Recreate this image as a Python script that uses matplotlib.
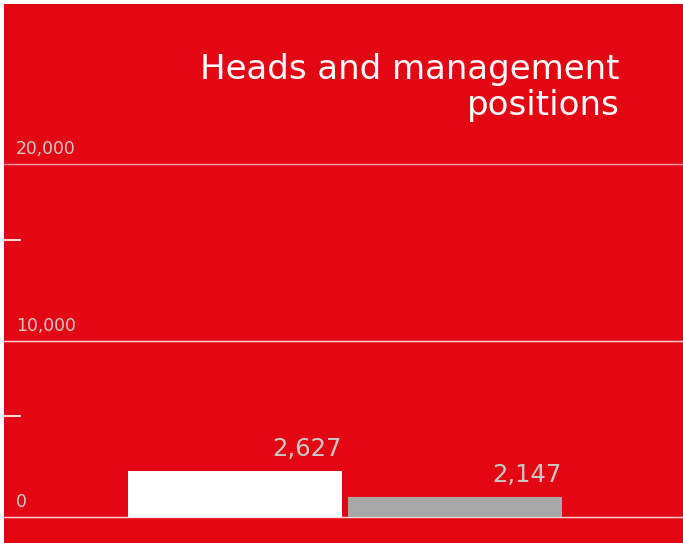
import matplotlib.pyplot as plt
import matplotlib.transforms as mtransforms

# data
categories = ['Group A', 'Group B']
values = [2627, 2147]
value_labels = ['2,627', '2,147']
y_ticks = [0, 10000, 20000]
y_tick_labels = ['0', '10,000', '20,000']

red = '#e30613'
label_grey = '#c9c9c9'

fig = plt.figure(figsize=(6.83, 5.43), dpi=100, facecolor=red)
# thin white margin on top/left like the reference
fig.patches.append(plt.Rectangle((0, 0), 4 / 683, 1, transform=fig.transFigure,
                                 facecolor='white', edgecolor='none', zorder=10))
fig.patches.append(plt.Rectangle((0, 1 - 4 / 543), 1, 4 / 543, transform=fig.transFigure,
                                 facecolor='white', edgecolor='none', zorder=10))

ax = fig.add_axes([4 / 683, 26 / 543, 679 / 683, 353 / 543])
ax.set_facecolor('none')
ax2 = ax.twinx()
ax2.set_facecolor('none')

# white bar on main axis, grey bar on secondary axis
ax.bar([0], [values[0]], width=0.973, color='white', zorder=3)
ax2.bar([1], [values[1]], width=0.973, color='#a8a8a8', zorder=3)

ax.set_ylim(0, 20000)
ax2.set_ylim(0, 37900)
for a in (ax, ax2):
    a.set_xlim(-1.05, 2.036)
    for s in a.spines.values():
        s.set_visible(False)
    a.set_xticks([])
ax2.set_yticks([])

# grid lines
trans = mtransforms.blended_transform_factory(ax.transAxes, ax.transData)
for t, lab in zip(y_ticks, y_tick_labels):
    alpha = 0.6 if t == 20000 else 0.85
    ax.axhline(t, color='white', lw=1, alpha=alpha, zorder=2, clip_on=False)
    ax.annotate(lab, xy=(0.018, t), xycoords=trans, xytext=(0, 4), textcoords='offset points',
                ha='left', va='bottom', color=label_grey, fontsize=12.3, fontweight='medium')

# minor tick marks
ax.set_yticks([])
ax.set_yticks([5720, 15690], minor=True)
ax.tick_params(axis='y', which='minor', direction='in', length=12.5, width=1.2, color='white')
ax.set_yticklabels([], minor=True)

# value labels
ax.annotate(value_labels[0], xy=(0 + 0.973 / 2, values[0]), xytext=(0, 7),
            textcoords='offset points', ha='right', va='bottom', color=label_grey, fontsize=17.5)
ax2.annotate(value_labels[1], xy=(1 + 0.973 / 2, values[1]), xytext=(0, 7),
             textcoords='offset points', ha='right', va='bottom', color=label_grey, fontsize=17.5)

# title
fig.text(620 / 683, 1 - 53 / 543, 'Heads and management\npositions', ha='right', va='top',
         color='white', fontsize=24.5, linespacing=1.1)

fig.savefig('out.png', dpi=100, facecolor=red)
